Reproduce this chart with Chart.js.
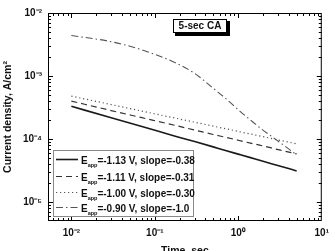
<!DOCTYPE html>
<html>
<head>
<meta charset="utf-8">
<script src="https://cdn.jsdelivr.net/npm/chart.js@4.4.1/dist/chart.umd.min.js"></script>
<style>
html, body { margin: 0; padding: 0; background: #fff; overflow: hidden; }
#wrap { width: 335px; height: 251px; position: relative; }
</style>
</head>
<body>
<div id="wrap"><canvas id="chart"></canvas></div>
<script>
// time axis (sec) shared by all curves
const timeSec = [0.01, 0.03, 0.07, 0.18, 0.3, 0.5, 0.72, 1.05, 1.4, 1.8, 3.2, 5];

// current density, A/cm2
const e113 = [3.3e-4, 2.18e-4, 1.58e-4, 1.10e-4, 9.1e-5, 7.5e-5, 6.5e-5, 5.65e-5, 5.07e-5, 4.6e-5, 3.7e-5, 3.12e-5];
const e111 = [4.0e-4, 2.83e-4, 2.18e-4, 1.63e-4, 1.39e-4, 1.18e-4, 1.06e-4, 9.4e-5, 8.6e-5, 8.0e-5, 6.65e-5, 5.8e-5];
const e100 = [4.8e-4, 3.52e-4, 2.77e-4, 2.13e-4, 1.85e-4, 1.60e-4, 1.45e-4, 1.30e-4, 1.20e-4, 1.12e-4, 9.5e-5, 8.4e-5];
const e090 = [4.4e-3, 3.5e-3, 2.6e-3, 1.6e-3, 1.1e-3, 6.4e-4, 4.3e-4, 2.75e-4, 2.0e-4, 1.52e-4, 8.7e-5, 5.6e-5];

const legendVolts = ['-1.13', '-1.11', '-1.00', '-0.90'];
const legendSlopes = ['-0.38', '-0.31', '-0.30', '-1.0'];

const xTickValues = [0.01, 0.1, 1, 10];
const xTickLabels = ['10⁻²', '10⁻¹', '10⁰', '10¹'];
const yTickValues = [1e-5, 1e-4, 1e-3, 1e-2];
const yTickLabels = ['10⁻⁵', '10⁻⁴', '10⁻³', '10⁻²'];

const boxLabel = '5-sec CA';
const FONT = "'Liberation Sans', Arial, sans-serif";

function pts(vals) {
    return timeSec.map((t, i) => ({x: t, y: vals[i]}));
}

function logTicks(min, max) {
    const out = [];
    for (let e = -7; e <= 2; e++) {
        for (let k = 1; k <= 9; k++) {
            const v = +(k * Math.pow(10, e)).toPrecision(6);
            if (v >= min * 0.9999 && v <= max * 1.0001) out.push({value: v});
        }
    }
    return out;
}

function tickLabel(values, labels) {
    return function (v) {
        for (let i = 0; i < values.length; i++) {
            if (Math.abs(v / values[i] - 1) < 1e-6) return labels[i];
        }
        return '';
    };
}

// box, inward ticks on all four sides, legend and label box
const decorations = {
    id: 'decorations',
    afterDraw(chart) {
        const {ctx, chartArea: a, scales: {x, y}} = chart;
        ctx.save();
        ctx.strokeStyle = '#000';
        ctx.lineWidth = 1;
        ctx.strokeRect(a.left + 0.5, a.top + 0.5, a.right - a.left - 1, a.bottom - a.top - 1);

        const isMajor = (v) => Math.abs(Math.log10(v) - Math.round(Math.log10(v))) < 1e-6;
        ctx.beginPath();
        x.ticks.forEach(t => {
            const px = Math.round(x.getPixelForValue(t.value)) + 0.5;
            if (px <= a.left + 1 || px >= a.right - 1) return;
            const len = isMajor(t.value) ? 5 : 3;
            ctx.moveTo(px, a.bottom); ctx.lineTo(px, a.bottom - len);
            ctx.moveTo(px, a.top); ctx.lineTo(px, a.top + len);
        });
        y.ticks.forEach(t => {
            const py = Math.round(y.getPixelForValue(t.value)) + 0.5;
            if (py <= a.top + 1 || py >= a.bottom - 1) return;
            const len = isMajor(t.value) ? 5 : 3;
            ctx.moveTo(a.left, py); ctx.lineTo(a.left + len, py);
            ctx.moveTo(a.right, py); ctx.lineTo(a.right - len, py);
        });
        ctx.stroke();

        // legend
        const lx = 53, ly = 150, lw = 140, lh = 66;
        ctx.fillStyle = '#fff';
        ctx.fillRect(lx, ly, lw, lh);
        ctx.strokeStyle = '#888';
        ctx.strokeRect(lx + 0.5, ly + 0.5, lw, lh);
        const rows = [159, 176, 192, 207];
        chart.data.datasets.forEach((ds, i) => {
            const ry = rows[i] + 0.5;
            ctx.save();
            ctx.strokeStyle = ds.borderColor;
            ctx.lineWidth = ds.borderWidth;
            ctx.setLineDash(ds.borderDash || []);
            ctx.beginPath();
            ctx.moveTo(56, ry); ctx.lineTo(78, ry);
            ctx.stroke();
            ctx.restore();
            ctx.fillStyle = '#111';
            ctx.textBaseline = 'alphabetic';
            ctx.textAlign = 'left';
            ctx.font = 'bold 10px ' + FONT;
            ctx.fillText('E', 81, ry + 4);
            let cx = 81 + ctx.measureText('E').width;
            ctx.font = 'bold 5.5px ' + FONT;
            ctx.fillText('app', cx, ry + 7);
            cx += ctx.measureText('app').width;
            ctx.font = 'bold 10px ' + FONT;
            ctx.fillText('=' + legendVolts[i] + ' V, slope=' + legendSlopes[i], cx, ry + 4);
        });

        // "5-sec CA" box with drop shadow
        ctx.fillStyle = '#000';
        ctx.fillRect(175, 21, 55, 15);
        ctx.fillStyle = '#fff';
        ctx.fillRect(173, 19, 54, 14);
        ctx.strokeStyle = '#000';
        ctx.strokeRect(173.5, 19.5, 53, 13);
        ctx.fillStyle = '#111';
        ctx.font = 'bold 10px ' + FONT;
        ctx.textAlign = 'center';
        ctx.textBaseline = 'middle';
        ctx.fillText(boxLabel, 200, 26.5);
        ctx.restore();
    }
};

const lineBase = {fill: false, pointRadius: 0, cubicInterpolationMode: 'monotone'};

new Chart(document.getElementById('chart').getContext('2d'), {
    type: 'line',
    data: {
        datasets: [
            Object.assign({label: 'Eapp=-1.13 V', data: pts(e113), borderColor: '#1a1a1a', borderWidth: 1.6}, lineBase),
            Object.assign({label: 'Eapp=-1.11 V', data: pts(e111), borderColor: '#333', borderWidth: 1.2, borderDash: [6, 4]}, lineBase),
            Object.assign({label: 'Eapp=-1.00 V', data: pts(e100), borderColor: '#555', borderWidth: 1.2, borderDash: [1.2, 2.8]}, lineBase),
            Object.assign({label: 'Eapp=-0.90 V', data: pts(e090), borderColor: '#555', borderWidth: 1.1, borderDash: [7, 3, 1.5, 3]}, lineBase)
        ]
    },
    options: {
        responsive: true,
        maintainAspectRatio: false,
        animation: false,
        events: [],
        layout: {padding: {left: 0, top: 13, right: 4, bottom: 0}},
        plugins: {legend: {display: false}, tooltip: {enabled: false}},
        scales: {
            x: {
                type: 'logarithmic',
                min: 0.00525,
                max: 10,
                grid: {display: false, drawTicks: false},
                border: {display: false},
                afterBuildTicks: (s) => { s.ticks = logTicks(s.min, s.max); },
                afterFit: (s) => { s.height = 30; },
                ticks: {
                    autoSkip: false,
                    maxRotation: 0,
                    padding: 6,
                    color: '#111',
                    font: {family: FONT, size: 10, weight: 'bold'},
                    callback: tickLabel(xTickValues, xTickLabels)
                },
                title: {
                    display: true,
                    text: 'Time, sec',
                    color: '#111',
                    padding: {top: 0, bottom: -6},
                    font: {family: FONT, size: 10.5, weight: 'bold'}
                }
            },
            y: {
                type: 'logarithmic',
                min: 5e-6,
                max: 1e-2,
                grid: {display: false, drawTicks: false},
                border: {display: false},
                afterBuildTicks: (s) => { s.ticks = logTicks(s.min, s.max); },
                afterFit: (s) => { s.width = 48; },
                ticks: {
                    autoSkip: false,
                    padding: 6,
                    color: '#111',
                    font: {family: FONT, size: 10, weight: 'bold'},
                    callback: tickLabel(yTickValues, yTickLabels)
                },
                title: {
                    display: true,
                    text: 'Current density, A/cm²',
                    color: '#111',
                    padding: {top: 2, bottom: 0},
                    font: {family: FONT, size: 10.5, weight: 'bold'}
                }
            }
        }
    },
    plugins: [decorations]
});
</script>
</body>
</html>
